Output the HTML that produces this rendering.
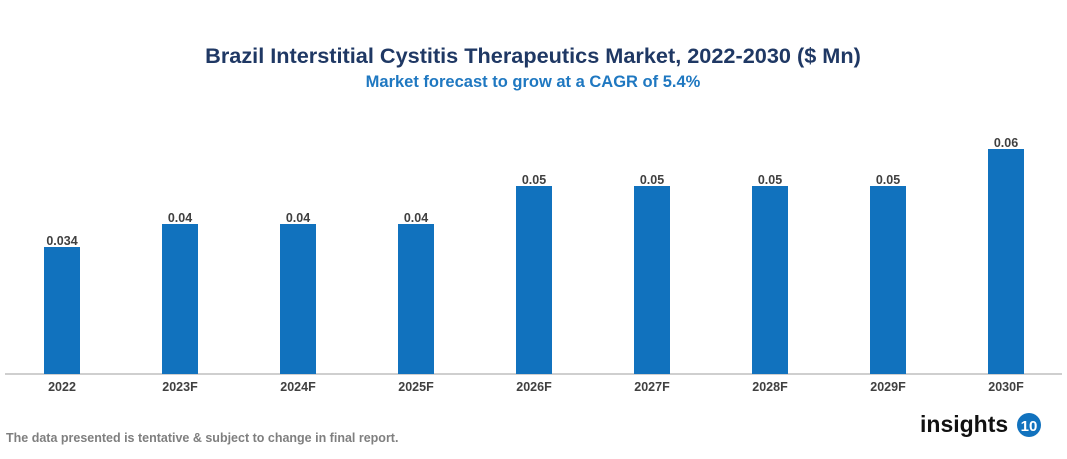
<!DOCTYPE html><html><head><style>
body{margin:0;width:1067px;height:454px;background:#fff;font-family:"Liberation Sans",Arial,sans-serif;overflow:hidden}
svg text{font-family:"Liberation Sans",Arial,sans-serif;font-weight:bold}
</style></head><body>
<svg width="1067" height="454" xmlns="http://www.w3.org/2000/svg">
<text x="533" y="63" text-anchor="middle" font-size="21.7" fill="#1f3864">Brazil Interstitial Cystitis Therapeutics Market, 2022-2030 ($ Mn)</text>
<text x="533" y="87" text-anchor="middle" font-size="16.5" fill="#1f78c1">Market forecast to grow at a CAGR of 5.4%</text>
<line x1="5" y1="374" x2="1062" y2="374" stroke="#bfbfbf" stroke-width="1.5"/>
<g fill="#1172be">
<rect x="44" y="247" width="36" height="127"/>
<rect x="162" y="224" width="36" height="150"/>
<rect x="280" y="224" width="36" height="150"/>
<rect x="398" y="224" width="36" height="150"/>
<rect x="516" y="186" width="36" height="188"/>
<rect x="634" y="186" width="36" height="188"/>
<rect x="752" y="186" width="36" height="188"/>
<rect x="870" y="186" width="36" height="188"/>
<rect x="988" y="149" width="36" height="225"/>
</g>
<g font-size="12.5" fill="#404040" text-anchor="middle">
<text x="62" y="245">0.034</text><text x="180" y="222">0.04</text><text x="298" y="222">0.04</text><text x="416" y="222">0.04</text>
<text x="534" y="184">0.05</text><text x="652" y="184">0.05</text><text x="770" y="184">0.05</text><text x="888" y="184">0.05</text><text x="1006" y="147">0.06</text>
</g>
<g font-size="12.5" fill="#404040" text-anchor="middle">
<text x="62" y="391">2022</text><text x="180" y="391">2023F</text><text x="298" y="391">2024F</text><text x="416" y="391">2025F</text>
<text x="534" y="391">2026F</text><text x="652" y="391">2027F</text><text x="770" y="391">2028F</text><text x="888" y="391">2029F</text><text x="1006" y="391">2030F</text>
</g>
<text x="6" y="442" font-size="12.5" fill="#7f7f7f">The data presented is tentative &amp; subject to change in final report.</text>
<text x="920" y="432" font-size="23" fill="#111">insights</text>
<circle cx="1029" cy="425" r="12" fill="#1172be"/>
<text x="1029" y="431" font-size="15" fill="#fff" text-anchor="middle">10</text>
</svg>
</body></html>
